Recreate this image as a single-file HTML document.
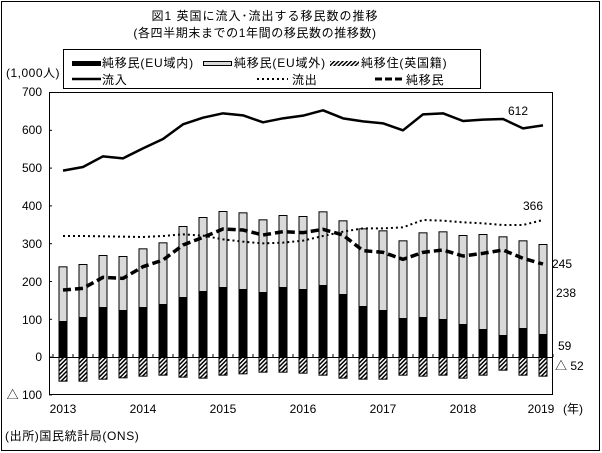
<!DOCTYPE html>
<html><head><meta charset="utf-8"><style>
html,body{margin:0;padding:0;background:#fff}
svg{display:block}
text{font-family:"Liberation Sans","Noto Sans CJK JP",sans-serif;font-size:12px;fill:#000}
.lg{letter-spacing:0.8px}
</style></head><body>
<svg id="c" width="602" height="453" viewBox="0 0 602 453" xmlns="http://www.w3.org/2000/svg">
<defs>
<pattern id="h" width="3" height="3" patternUnits="userSpaceOnUse" patternTransform="rotate(45)">
<rect width="3" height="3" fill="#fff"/><rect width="1.5" height="3" fill="#000"/>
</pattern>
</defs>
<rect x="1.5" y="1.5" width="598" height="449" fill="#fff" stroke="#000" stroke-width="1"/>
<text x="265" y="20" text-anchor="middle" font-size="14" letter-spacing="1">図1  英国に流入･流出する移民数の推移</text>
<text x="255" y="37" text-anchor="middle" font-size="14" letter-spacing="0.6">(各四半期末までの1年間の移民数の推移数)</text>
<rect x="63.5" y="49.5" width="417" height="39" fill="#fff" stroke="#000"/>
<rect x="72" y="61" width="29" height="5" fill="#000"/>
<text class="lg" x="102" y="67">純移民(EU域内)</text>
<rect x="203.5" y="61.5" width="28" height="4" fill="#d9d9d9" stroke="#000"/>
<text class="lg" x="234" y="67">純移民(EU域外)</text>
<rect x="330" y="61" width="29" height="5" fill="url(#h)"/>
<text class="lg" x="361" y="67">純移住(英国籍)</text>
<line x1="72" y1="79" x2="101" y2="79" stroke="#000" stroke-width="2.5"/>
<text class="lg" x="102" y="84">流入</text>
<line x1="257" y1="79" x2="288" y2="79" stroke="#000" stroke-width="2" stroke-dasharray="2,3"/>
<text class="lg" x="292" y="84">流出</text>
<line x1="375" y1="79" x2="404" y2="79" stroke="#000" stroke-width="3" stroke-dasharray="7,3"/>
<text class="lg" x="406" y="84">純移民</text>
<text x="6" y="77" letter-spacing="0.5">(1,000人)</text>
<g id="plot"></g>
<rect x="49.5" y="92.5" width="503" height="302" fill="none" stroke="#000"/>
<g text-anchor="end">
<text x="42" y="96">700</text><text x="42" y="134">600</text><text x="42" y="172">500</text>
<text x="42" y="210">400</text><text x="42" y="248">300</text><text x="42" y="286">200</text>
<text x="42" y="324">100</text><text x="42" y="361">0</text><text x="42" y="399">△ 100</text>
</g>
<g text-anchor="middle">
<text x="63" y="413">2013</text><text x="143" y="413">2014</text><text x="223" y="413">2015</text>
<text x="303" y="413">2016</text><text x="383" y="413">2017</text><text x="463" y="413">2018</text>
<text x="541" y="413">2019</text>
</g>
<text x="563" y="413">(年)</text>
<text x="5" y="440" letter-spacing="0.6">(出所)国民統計局(ONS)</text>
<text x="508" y="115">612</text>
<text x="523" y="210">366</text>
<text x="552" y="268">245</text>
<text x="556" y="297">238</text>
<text x="558" y="350">59</text>
<text x="555" y="370">△ 52</text>
</svg>
<script>
var NS="http://www.w3.org/2000/svg",g=document.getElementById("plot");
function el(n,a){var e=document.createElementNS(NS,n);for(var k in a)e.setAttribute(k,a[k]);g.appendChild(e);return e;}
var tot=[199,192,165,168,145,127,78,51,33,37,58,45,48,34,61,85,91,121,97,94,105,102,109,121,132];
var blk=[363,351,321,330,321,312,291,273,261,267,276,261,267,255,282,318,330,354,351,357,372,387,405,384,402];
var hb=[545,545,539,535,530,527,533,536,527,523,518,518,521,527,536,539,539,527,530,527,536,527,512,527,530];
var inf=[227,216,184,190,160,132,88,68,55,61,82,70,62,46,70,79,85,106,58,55,78,74,72,100,91];
var out=[108,108,109,110,111,108,103,107,118,125,130,128,122,108,95,85,85,82,60,62,67,70,75,75,60];
var net=[270,265,232,235,200,180,135,112,87,90,105,95,98,88,105,152,157,178,157,150,168,160,150,175,192];
var Z=357;
for(var i=0;i<25;i++){
 var cx=63+20*i,x=cx-4.5,t=200+tot[i]/3,b=200+blk[i]/3,hh=200+hb[i]/3;
 el("rect",{x:x+0.5,y:t+0.5,width:8,height:Z-t,fill:"#d9d9d9",stroke:"#000"});
 el("rect",{x:x,y:b,width:9,height:Z-b,fill:"#000"});
 el("rect",{x:x+0.5,y:Z+0.5,width:8,height:hh-Z-1,fill:"url(#h)",stroke:"#000"});
}
el("line",{x1:49,y1:Z+0.5,x2:552,y2:Z+0.5,stroke:"#000"});
for(var i=0;i<=25;i++){var x=53+20*i;el("line",{x1:x,y1:Z,x2:x,y2:Z-3,stroke:"#000"});}
for(var v=0;v<=8;v++){var y=92.5+v*37.8;el("line",{x1:49,y1:y,x2:52,y2:y,stroke:"#000"});}
function pl(a,off,sw,da){var p=[];for(var i=0;i<25;i++)p.push((63+20*i)+","+(off+a[i]/3));var o={points:p.join(" "),fill:"none",stroke:"#000","stroke-width":sw,"stroke-linejoin":"round"};if(da)o["stroke-dasharray"]=da;el("polyline",o);}
pl(inf,95,2.5);
pl(out,200,2,"2,3");
pl(net,200,3.5,"8,4");
</script>
</body></html>
